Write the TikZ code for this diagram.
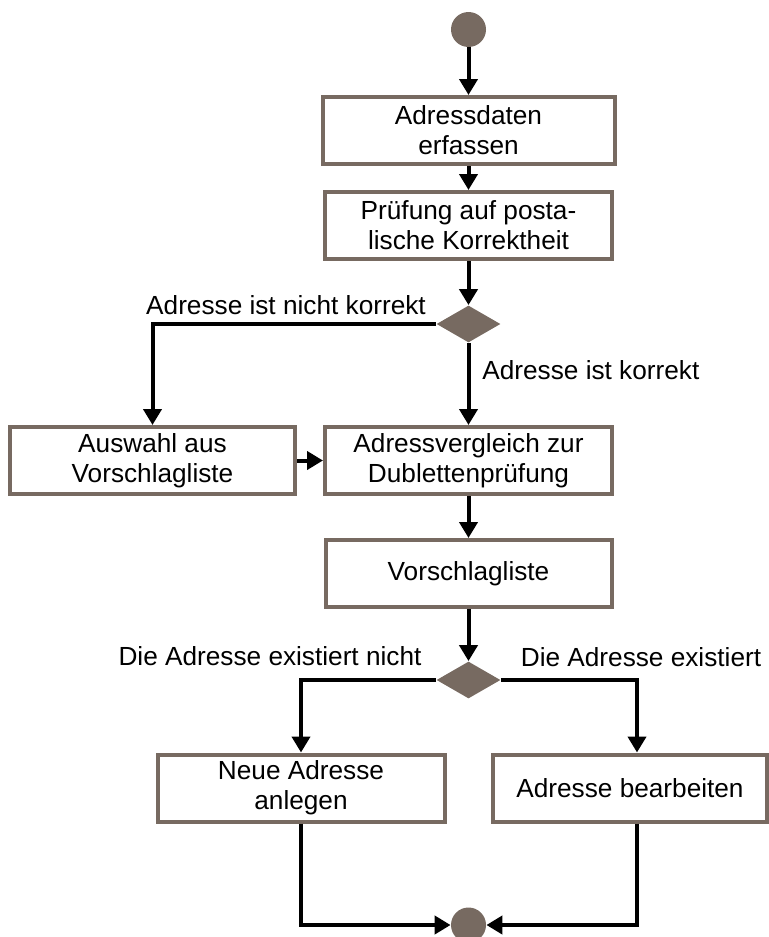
\documentclass[tikz,border=0pt]{standalone}
\usepackage{fontspec}
\setmainfont{Liberation Sans}
\usetikzlibrary{arrows.meta,shapes.geometric}
\definecolor{umbra}{HTML}{776A61}
\begin{document}
\begin{tikzpicture}[x=0.5pt,y=-0.5pt,
  every node/.style={font=\fontsize{13.1}{15}\selectfont},
  act/.style={draw=umbra, line width=2pt, fill=white, align=center,
    inner sep=0pt, minimum height=33.5pt},
  ctrl/.style={circle, fill=umbra, minimum size=17.5pt, inner sep=0pt},
  choice/.style={diamond, fill=umbra, minimum width=32pt,
    minimum height=18.5pt, inner sep=0pt},
  flow/.style={line width=2pt, -{Triangle[length=8pt,width=9pt]}},
  guard/.style={inner sep=0pt}
]
\useasboundingbox (0,0) rectangle (769,937);
\clip (0,0) rectangle (769,937);

% activities and control nodes
\node[ctrl] (start) at (468.5,29.5) {};
\node[act, minimum width=146pt] (capture) at (468.5,130.5) {Adressdaten\\erfassen};
\node[act, minimum width=143.5pt] (check) at (468.5,225.5) {Prüfung auf posta-\\lische Korrektheit};
\node[choice] (d1) at (468.5,324) {};
\node[act, minimum width=142.5pt] (pick) at (152.5,460.5) {Auswahl aus\\Vorschlagliste};
\node[act, minimum width=143.5pt] (compare) at (468.5,460.5) {Adressvergleich zur\\Dublettenprüfung};
\node[act, minimum width=143pt] (list) at (468.5,573.5) {Vorschlagliste};
\node[choice] (d2) at (468.5,680) {};
\node[act, minimum width=143.5pt] (new) at (301,788) {Neue Adresse\\anlegen};
\node[act, minimum width=137pt] (edit) at (630,788) {Adresse bearbeiten};
\node[ctrl] (end) at (468.5,925) {};

% control flow
\draw[flow] (start) -- (capture);
\draw[flow] (capture) -- (check);
\draw[flow] (check) -- (d1);
\draw[flow] (d1.west) -| (pick.north);
\draw[flow] (d1) -- (compare);
\draw[flow] (pick) -- (compare);
\draw[flow] (compare) -- (list);
\draw[flow] (list) -- (d2);
\draw[flow] (d2.west) -| (new.north);
\draw[flow] (d2.east) -| ([xshift=3.5pt]edit.north);
\draw[flow] (new.south) |- (end.west);
\draw[flow] ([xshift=3.5pt]edit.south) |- (end.east);

% guards
\node[guard] (g1) at (286,305.5) {Adresse ist nicht korrekt};
\node[guard, anchor=west] (g2) at (482,370) {Adresse ist korrekt};
\node[guard] (g3) at (270,656) {Die Adresse existiert nicht};
\node[guard] (g4) at (641,657) {Die Adresse existiert};
\end{tikzpicture}
\end{document}
